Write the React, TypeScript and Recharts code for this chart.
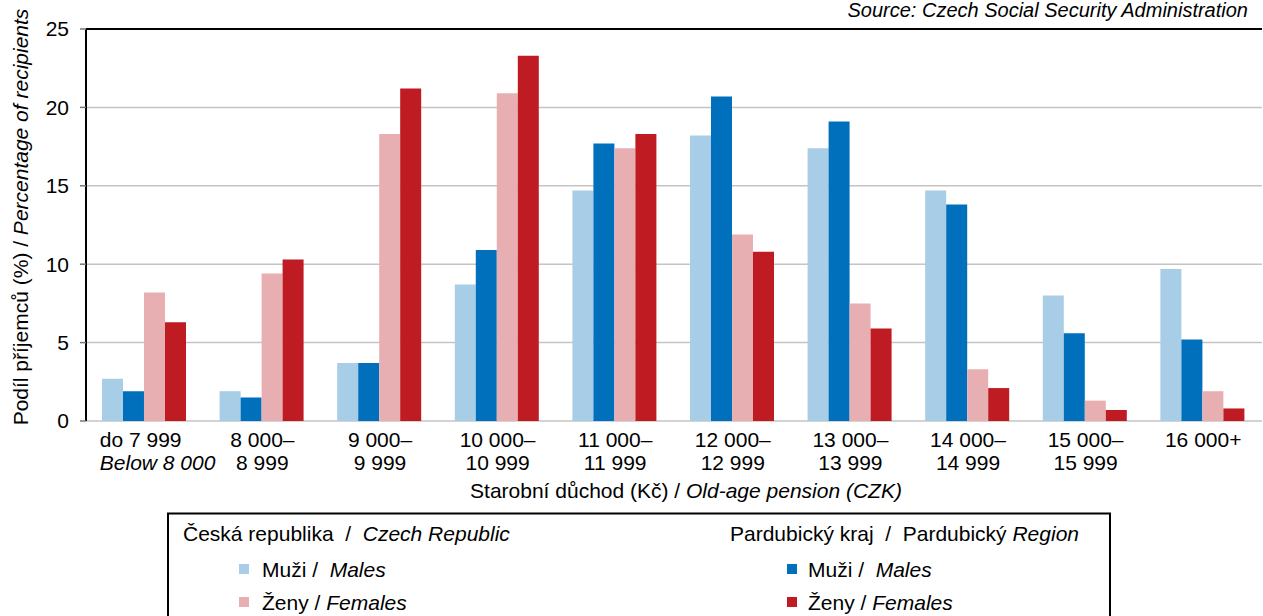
import React from 'react'
import { BarChart, Bar, XAxis, YAxis, CartesianGrid, ReferenceLine } from 'recharts'

const FONT = '"Liberation Sans", Arial, Helvetica, sans-serif'

// pension bands (two-line tick labels)
const categories = ['do 7 999', '8 000–', '9 000–', '10 000–', '11 000–', '12 000–', '13 000–', '14 000–', '15 000–', '16 000+']
const categorySub = ['Below 8 000', '8 999', '9 999', '10 999', '11 999', '12 999', '13 999', '14 999', '15 999', '']

// share of recipients, %
const czMales = [2.7, 1.9, 3.7, 8.7, 14.7, 18.2, 17.4, 14.7, 8.0, 9.7]
const pkMales = [1.9, 1.5, 3.7, 10.9, 17.7, 20.7, 19.1, 13.8, 5.6, 5.2]
const czFemales = [8.2, 9.4, 18.3, 20.9, 17.4, 11.9, 7.5, 3.3, 1.3, 1.9]
const pkFemales = [6.3, 10.3, 21.2, 23.3, 18.3, 10.8, 5.9, 2.1, 0.7, 0.8]

const yTicks = [0, 5, 10, 15, 20, 25]
const edgeTicks = [0, 1, 2, 3, 4, 5, 6, 7, 8, 9, 10]

const COLORS = {
  czM: '#A8CDE7',
  pkM: '#0070BD',
  czF: '#E8AFB2',
  pkF: '#BE1B23',
}

const legendGroups = [
  { title: 'Česká republika  /  ', titleIt: 'Czech Republic' },
  { title: 'Pardubický kraj  /  Pardubický ', titleIt: 'Region' },
]
const legendItems = [
  [
    { key: 'czM', label: 'Muži /  ', labelIt: 'Males' },
    { key: 'czF', label: 'Ženy / ', labelIt: 'Females' },
  ],
  [
    { key: 'pkM', label: 'Muži /  ', labelIt: 'Males' },
    { key: 'pkF', label: 'Ženy / ', labelIt: 'Females' },
  ],
]

const data = categories.map((c, i) => ({
  cat: c,
  idx: i,
  czM: czMales[i],
  pkM: pkMales[i],
  czF: czFemales[i],
  pkF: pkFemales[i],
}))

function CatTick(props: any) {
  const { x, y, payload } = props
  const i = payload.index
  const first = i === 0
  const tx = first ? x - 45 : x
  return (
    <text x={tx} y={y} textAnchor={first ? 'start' : 'middle'} fontSize={21} fontFamily={FONT} fill="#000">
      <tspan x={tx} dy={26}>{categories[i]}</tspan>
      <tspan x={tx} dy={23} fontStyle={first ? 'italic' : 'normal'}>{categorySub[i]}</tspan>
    </text>
  )
}

function YTitle(props: any) {
  const vb = props.viewBox
  const cx = 28
  const cy = vb.y + vb.height / 2 - 8
  return (
    <text x={cx} y={cy} transform={`rotate(-90, ${cx}, ${cy})`} textAnchor="middle" fontSize={21} fontFamily={FONT} fill="#000" style={{ whiteSpace: 'pre' }}>
      <tspan>Podíl příjemců (%) / </tspan>
      <tspan fontStyle="italic">Percentage of recipients</tspan>
    </text>
  )
}

function XTitle(props: any) {
  const vb = props.viewBox
  return (
    <text x={vb.x + vb.width / 2 + 12} y={vb.y + 77} textAnchor="middle" fontSize={21} fontFamily={FONT} fill="#000" style={{ whiteSpace: 'pre' }}>
      <tspan>Starobní důchod (Kč) / </tspan>
      <tspan fontStyle="italic">Old-age pension (CZK)</tspan>
    </text>
  )
}

export default function App() {
  const colX = [[183, 239, 262], [730, 787, 808]]
  const rowY = [577, 610]
  return (
    <div style={{ position: 'absolute', left: 0, top: 0, width: 1263, height: 616, overflow: 'hidden', background: '#fff', fontFamily: FONT }}>
      <BarChart
        width={1263}
        height={616}
        data={data}
        margin={{ top: 29, right: 1, left: 0, bottom: 135 }}
        barCategoryGap="13.6%"
        barGap={0}
      >
        <CartesianGrid xAxisId="cat" vertical={false} stroke="#C4C4C4" strokeWidth={1.5} />
        <XAxis
          xAxisId="edges"
          type="number"
          dataKey="idx"
          domain={[0, 10]}
          allowDataOverflow
          ticks={edgeTicks}
          tick={false}
          tickSize={6}
          height={0}
          axisLine={{ stroke: '#000', strokeWidth: 2 }}
          tickLine={{ stroke: '#000', strokeWidth: 2 }}
        />
        <XAxis
          xAxisId="cat"
          dataKey="cat"
          height={60}
          axisLine={false}
          tickLine={false}
          tickSize={0}
          tickMargin={0}
          interval={0}
          tick={<CatTick />}
          label={<XTitle />}
        />
        <YAxis
          width={86}
          domain={[0, 25]}
          ticks={yTicks}
          tickSize={6}
          tickMargin={11}
          tick={{ fontSize: 21, fill: '#000', fontFamily: FONT }}
          axisLine={{ stroke: '#000', strokeWidth: 2 }}
          tickLine={{ stroke: '#777', strokeWidth: 1.5 }}
          label={<YTitle />}
        />
        <ReferenceLine xAxisId="cat" y={25} stroke="#000" strokeWidth={2} />
        <Bar xAxisId="cat" dataKey="czM" fill={COLORS.czM} isAnimationActive={false} />
        <Bar xAxisId="cat" dataKey="pkM" fill={COLORS.pkM} isAnimationActive={false} />
        <Bar xAxisId="cat" dataKey="czF" fill={COLORS.czF} isAnimationActive={false} />
        <Bar xAxisId="cat" dataKey="pkF" fill={COLORS.pkF} isAnimationActive={false} />
      </BarChart>

      <svg width={1263} height={616} style={{ position: 'absolute', left: 0, top: 0, pointerEvents: 'none' }}>
        <text x={1248} y={17} textAnchor="end" fontSize={20} fontStyle="italic" fontFamily={FONT} fill="#000">
          Source: Czech Social Security Administration
        </text>
        {/* legend box */}
        <rect x={168} y={513.5} width={942} height={120} fill="none" stroke="#000" strokeWidth={2} />
        {legendGroups.map((g, gi) => (
          <g key={gi}>
            <text x={colX[gi][0]} y={541} fontSize={21} fontFamily={FONT} fill="#000" style={{ whiteSpace: 'pre' }}>
              <tspan>{g.title}</tspan>
              <tspan fontStyle="italic">{g.titleIt}</tspan>
            </text>
            {legendItems[gi].map((it, ri) => (
              <g key={it.key}>
                <rect x={colX[gi][1]} y={rowY[ri] - 13} width={10} height={10} fill={(COLORS as any)[it.key]} />
                <text x={colX[gi][2]} y={rowY[ri]} fontSize={21} fontFamily={FONT} fill="#000" style={{ whiteSpace: 'pre' }}>
                  <tspan>{it.label}</tspan>
                  <tspan fontStyle="italic">{it.labelIt}</tspan>
                </text>
              </g>
            ))}
          </g>
        ))}
      </svg>
    </div>
  )
}
